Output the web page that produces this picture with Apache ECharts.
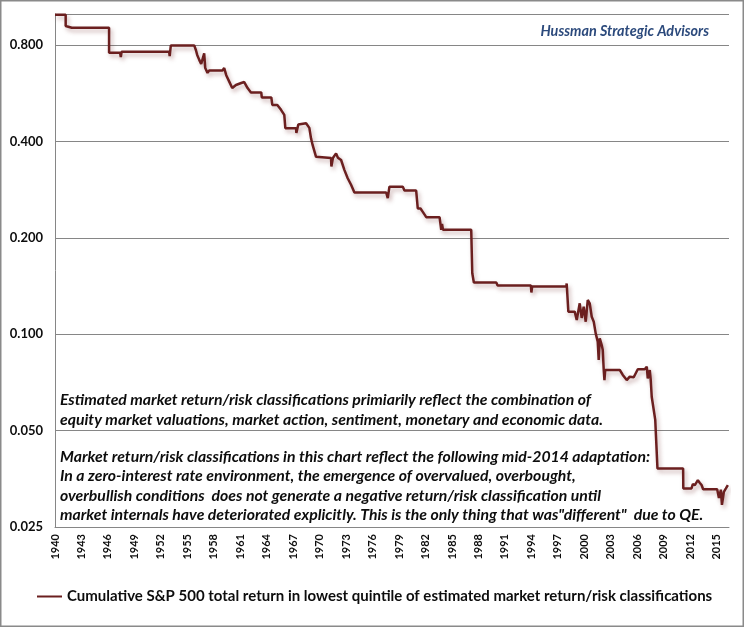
<!DOCTYPE html>
<html><head><meta charset="utf-8">
<script src="https://cdn.jsdelivr.net/npm/echarts@6/dist/echarts.min.js"></script>
<style>html,body{margin:0;padding:0;background:#fff}#c{width:744px;height:627px}</style>
</head><body><div id="c"></div>
<script>
const years = [1940.0,1941.21,1941.21,1941.9,1946.13,1946.13,1947.38,1947.46,1947.55,1952.94,1953.0,1953.13,1955.78,1955.97,1956.12,1956.35,1956.57,1956.91,1957.03,1957.29,1957.48,1958.99,1959.18,1959.41,1959.75,1960.09,1960.51,1961.11,1961.45,1961.83,1962.21,1963.38,1963.44,1964.52,1964.63,1965.2,1965.62,1965.99,1966.11,1967.32,1967.36,1967.58,1967.7,1968.46,1968.83,1969.02,1969.2,1969.59,1969.77,1971.29,1971.33,1971.5,1971.67,1971.86,1972.07,1972.43,1972.8,1973.18,1973.56,1973.94,1977.54,1977.72,1977.91,1979.42,1979.61,1980.94,1981.12,1981.43,1981.69,1981.88,1982.08,1983.59,1983.78,1983.87,1983.98,1987.18,1987.3,1987.48,1990.02,1990.17,1993.94,1994.0,1994.09,1997.96,1998.0,1998.19,1998.91,1999.14,1999.48,1999.7,1999.93,2000.16,2000.39,2000.61,2000.84,2001.07,2001.29,2001.52,2001.63,2001.75,2001.97,2002.09,2002.2,2002.28,2002.37,2004.02,2004.36,2004.81,2005.15,2005.6,2006.06,2006.85,2007.08,2007.19,2007.42,2007.53,2007.64,2007.87,2008.04,2008.29,2011.2,2011.22,2012.15,2012.3,2012.53,2012.87,2013.1,2013.29,2013.47,2015.06,2015.26,2015.48,2015.6,2015.82,2016.05,2016.27];
const values = [0.995,0.995,0.917,0.906,0.906,0.757,0.757,0.734,0.762,0.762,0.739,0.798,0.798,0.772,0.745,0.719,0.698,0.753,0.678,0.655,0.666,0.666,0.678,0.644,0.615,0.587,0.600,0.609,0.613,0.587,0.569,0.569,0.549,0.549,0.520,0.520,0.502,0.484,0.440,0.440,0.425,0.452,0.456,0.456,0.441,0.409,0.390,0.358,0.355,0.355,0.334,0.355,0.358,0.367,0.356,0.350,0.326,0.307,0.293,0.277,0.277,0.266,0.289,0.289,0.281,0.281,0.247,0.247,0.241,0.241,0.232,0.232,0.212,0.221,0.212,0.212,0.155,0.145,0.145,0.142,0.142,0.135,0.141,0.141,0.144,0.1176,0.1176,0.1108,0.1249,0.1124,0.1219,0.1094,0.1279,0.1249,0.1134,0.1094,0.1006,0.0948,0.0831,0.0971,0.0925,0.0892,0.0773,0.0719,0.0773,0.0773,0.0746,0.0719,0.0737,0.0734,0.0777,0.0777,0.0792,0.0728,0.0773,0.0719,0.0638,0.058,0.054,0.0381,0.0381,0.0330,0.0330,0.034,0.0338,0.0350,0.0343,0.0338,0.0328,0.0328,0.0308,0.0327,0.0293,0.0322,0.0330,0.0338];
const yTickLabels = ['0.025','0.050','0.100','0.200','0.400','0.800'];
const seriesName = 'Cumulative S&P 500 total return in lowest quintile of estimated market return/risk classifications';
const noteLines1 = [
  'Estimated market return/risk classifications primiarily reflect the combination of',
  'equity market valuations, market action, sentiment, monetary and economic data.'
];
const noteLines2 = [
  'Market return/risk classifications in this chart reflect the following mid-2014 adaptation:',
  'In a zero-interest rate environment, the emergence of overvalued, overbought,',
  'overbullish conditions  does not generate a negative return/risk classification until',
  'market internals have deteriorated explicitly. This is the only thing that was"different"  due to QE.'
];
const yMin = 0.025, yMax = 1.0;
const FONT = 'Lato, "DejaVu Sans", sans-serif';

const chart = echarts.init(document.getElementById('c'), null, {renderer: 'canvas'});
const noteText = (t, y) => ({
  type: 'text', x: 60, y: y, silent: true,
  style: {text: t, fill: '#0d0d0d', fontFamily: FONT, fontStyle: 'italic', fontWeight: 'bold', fontSize: 15.8, textVerticalAlign: 'middle'}
});
const graphics = [
  {type: 'rect', shape: {x: 0.75, y: 0.75, width: 742.5, height: 625.5}, style: {fill: null, stroke: '#8a8a8a', lineWidth: 1.5}, silent: true},
  {type: 'text', x: 709, y: 31, silent: true,
   style: {text: 'Hussman Strategic Advisors', fill: '#2c4a7c', fontFamily: FONT, fontStyle: 'italic', fontWeight: 'bold', fontSize: 14.4, textAlign: 'right', textVerticalAlign: 'middle'}}
];
noteLines1.forEach((t, i) => graphics.push(noteText(t, 400 + i * 19.7)));
noteLines2.forEach((t, i) => graphics.push(noteText(t, 457 + i * 19.3)));

chart.setOption({
  animation: false,
  backgroundColor: '#fff',
  grid: {left: 55, right: 15, top: 14, bottom: 100, containLabel: false},
  xAxis: [{
    type: 'value', min: 1940, max: 2016.4, interval: 3,
    axisLine: {show: true, lineStyle: {color: '#868686', width: 1}},
    axisTick: {show: false},
    splitLine: {show: false},
    axisLabel: {rotate: 90, margin: 7, showMaxLabel: false, hideOverlap: false, color: '#0d0d0d', fontFamily: FONT, fontWeight: 'bold', fontSize: 11, lineHeight: 12,
      formatter: v => String(Math.round(v))}
  }],
  yAxis: [{
    type: 'log', logBase: 2, min: yMin, max: yMax, show: false
  }, {
    type: 'value', min: 0, max: Math.log2(yMax / yMin), interval: 1, position: 'left',
    axisLine: {show: true, lineStyle: {color: '#868686', width: 1}},
    axisTick: {show: false},
    splitLine: {show: true, lineStyle: {color: '#868686', width: 1}},
    axisLabel: {showMaxLabel: false, margin: 12, color: '#0d0d0d', fontFamily: FONT, fontWeight: 'bold', fontSize: 13,
      formatter: (v) => yTickLabels[Math.round(v)] || ''}
  }],
  legend: {
    left: 32, top: 584, icon: 'rect', itemWidth: 25, itemHeight: 2, itemGap: 4,
    textStyle: {color: '#0d0d0d', fontFamily: FONT, fontWeight: 'bold', fontSize: 15},
    data: [seriesName]
  },
  series: [{
    name: seriesName, type: 'line', yAxisIndex: 0, xAxisIndex: 0,
    showSymbol: false, symbol: 'none',
    data: years.map((y, i) => [y, values[i]]),
    lineStyle: {color: '#6b1f1f', width: 2.5, shadowColor: 'rgba(110,40,40,0.35)', shadowBlur: 4, shadowOffsetX: 2, shadowOffsetY: 3},
    itemStyle: {color: '#6b1f1f'}
  }],
  graphic: graphics
});
</script></body></html>
